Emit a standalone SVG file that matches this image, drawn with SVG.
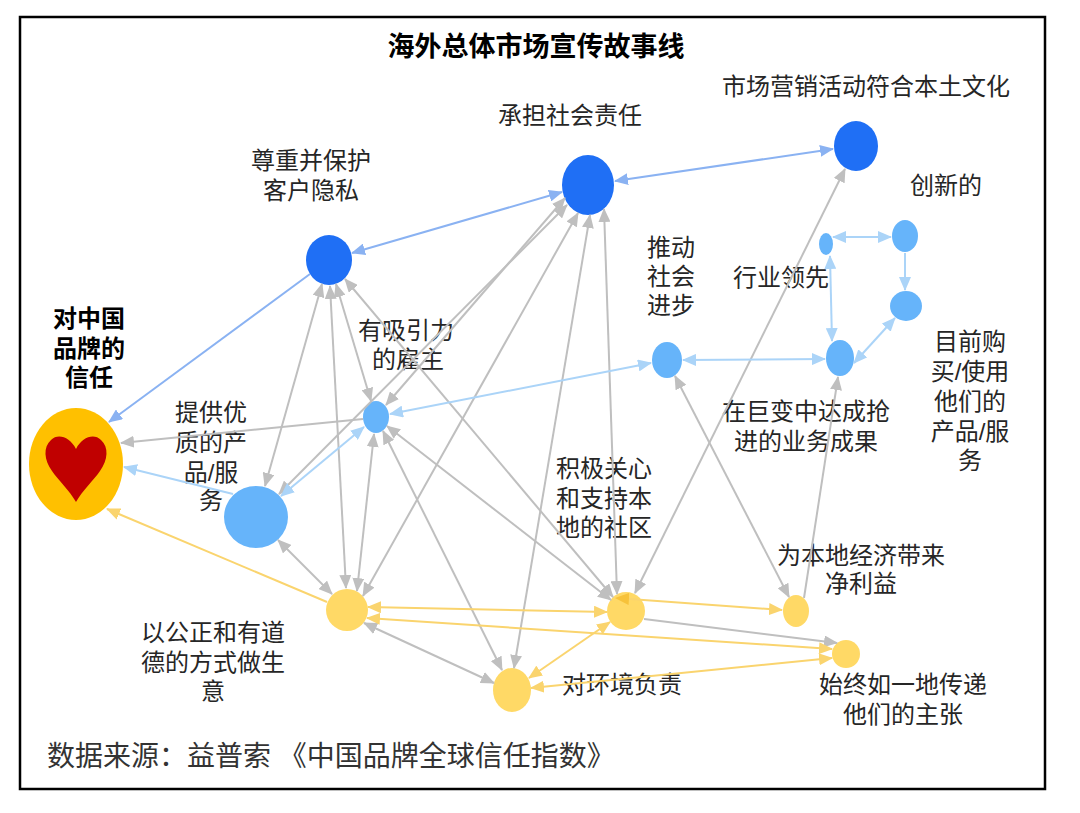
<svg xmlns="http://www.w3.org/2000/svg" width="1080" height="813" viewBox="0 0 1080 813">
<style>
text{font-family:"Liberation Sans","Noto Sans CJK SC",sans-serif;fill:#262626;font-size:24px;text-anchor:middle}
.bold{font-weight:bold;fill:#000}
.src{font-size:28px;text-anchor:start;fill:#333}
.title{font-size:27px;font-weight:bold;fill:#000}
.g{stroke:#BFBFBF;stroke-width:2;fill:none}
.b{stroke:#8AB2F2;stroke-width:2;fill:none}
.l{stroke:#ABD4F8;stroke-width:2;fill:none}
.y{stroke:#FAD46E;stroke-width:2;fill:none}
.dk{fill:#1F6FF5}
.lt{fill:#66B4FA}
.yl{fill:#FFD966}
</style>
<defs>
<marker id="ag" viewBox="0 0 14 12" markerWidth="14" markerHeight="12" refX="13" refY="6" orient="auto-start-reverse" markerUnits="userSpaceOnUse"><path d="M0,0L14,6L0,12Z" fill="#BFBFBF"/></marker>
<marker id="ab" viewBox="0 0 14 12" markerWidth="14" markerHeight="12" refX="13" refY="6" orient="auto-start-reverse" markerUnits="userSpaceOnUse"><path d="M0,0L14,6L0,12Z" fill="#8AB2F2"/></marker>
<marker id="al" viewBox="0 0 14 12" markerWidth="14" markerHeight="12" refX="13" refY="6" orient="auto-start-reverse" markerUnits="userSpaceOnUse"><path d="M0,0L14,6L0,12Z" fill="#ABD4F8"/></marker>
<marker id="ay" viewBox="0 0 14 12" markerWidth="14" markerHeight="12" refX="13" refY="6" orient="auto-start-reverse" markerUnits="userSpaceOnUse"><path d="M0,0L14,6L0,12Z" fill="#FAD46E"/></marker>
<marker id="ay2" viewBox="0 0 14 12" markerWidth="14" markerHeight="12" refX="13" refY="6" orient="auto-start-reverse" markerUnits="userSpaceOnUse"><path d="M0,0L14,6L0,12Z" fill="#F7C23A"/></marker>
</defs>
<rect x="0" y="0" width="1080" height="813" fill="#fff"/>
<rect id="frame" x="20" y="17" width="1025" height="772" fill="none" stroke="#000" stroke-width="2.5"/>
<text class="title" x="536" y="56">海外总体市场宣传故事线</text>

<g id="nodes">
<g id="n-trust"><ellipse cx="76" cy="464" rx="47" ry="56" fill="#FFC000"/><path d="M76,449 C70,437 58,433 51,440 C43,447 44,460 52,471 C58,480 70,491 76,502 C82,491 94,480 100,471 C108,460 109,447 101,440 C94,433 82,437 76,449 Z" fill="#C00000"/><text class="bold" x="89" y="327">对中国</text><text class="bold" x="89" y="357">品牌的</text><text class="bold" x="89" y="386">信任</text></g>
<g id="n-privacy"><ellipse class="dk" cx="329" cy="260" rx="23" ry="25"/><text x="311" y="169">尊重并保护</text><text x="311" y="199">客户隐私</text></g>
<g id="n-social"><ellipse class="dk" cx="588" cy="185" rx="26" ry="30"/><text x="570" y="124">承担社会责任</text></g>
<g id="n-culture"><ellipse class="dk" cx="856" cy="146" rx="22" ry="25"/><text x="866" y="95">市场营销活动符合本土文化</text></g>
<g id="n-employer"><ellipse class="lt" cx="376" cy="417" rx="13" ry="16"/><text x="406" y="339">有吸引力</text><text x="408" y="368">的雇主</text></g>
<g id="n-quality"><ellipse class="lt" cx="256" cy="517" rx="32" ry="31"/><text x="211" y="421">提供优</text><text x="211" y="451">质的产</text><text x="211" y="481">品/服</text><text x="211" y="509">务</text></g>
<g id="n-progress"><ellipse class="lt" cx="667" cy="360" rx="15" ry="18"/><text x="671" y="256">推动</text><text x="671" y="285">社会</text><text x="671" y="314">进步</text></g>
<g id="n-results"><ellipse class="lt" cx="840" cy="358" rx="14" ry="18"/><text x="806" y="420">在巨变中达成抢</text><text x="806" y="450">进的业务成果</text></g>
<g id="n-leader"><ellipse class="lt" cx="826" cy="244" rx="7" ry="11"/><text x="781" y="286">行业领先</text></g>
<g id="n-innov"><ellipse class="lt" cx="905" cy="236" rx="13" ry="16"/><text x="946" y="194">创新的</text></g>
<g id="n-buy"><ellipse class="lt" cx="906" cy="306" rx="16" ry="15"/><text x="970" y="350">目前购</text><text x="970" y="380">买/使用</text><text x="970" y="410">他们的</text><text x="970" y="440">产品/服</text><text x="970" y="469">务</text></g>
<g id="n-ethic"><ellipse class="yl" cx="347" cy="610" rx="21" ry="21"/><text x="213" y="641">以公正和有道</text><text x="213" y="671">德的方式做生</text><text x="213" y="700">意</text></g>
<g id="n-community"><ellipse class="yl" cx="626" cy="611" rx="19" ry="19"/><text x="604" y="477">积极关心</text><text x="604" y="507">和支持本</text><text x="604" y="536">地的社区</text></g>
<g id="n-env"><ellipse class="yl" cx="512" cy="690" rx="19" ry="22"/><text x="622" y="693">对环境负责</text></g>
<g id="n-economy"><ellipse class="yl" cx="796" cy="611" rx="13" ry="16"/><text x="861" y="564">为本地经济带来</text><text x="861" y="592">净利益</text></g>
<g id="n-consistent"><ellipse class="yl" cx="846" cy="654" rx="14" ry="14"/><text x="903" y="693">始终如一地传递</text><text x="903" y="723">他们的主张</text></g>
</g>

<g id="connectors">
<path class="g" d="M363,419 L121,443" marker-end="url(#ag)"/>
<path class="g" d="M322,284 L265,486" marker-start="url(#ag)" marker-end="url(#ag)"/>
<path class="g" d="M330,286 L346,588" marker-start="url(#ag)" marker-end="url(#ag)"/>
<path class="g" d="M336,284 L371,401" marker-start="url(#ag)" marker-end="url(#ag)"/>
<path class="g" d="M345,279 L613,597" marker-start="url(#ag)" marker-end="url(#ag)"/>
<path class="g" d="M565,198 L386,405" marker-start="url(#ag)" marker-end="url(#ag)"/>
<path class="g" d="M567,205 L279,494" marker-start="url(#ag)" marker-end="url(#ag)"/>
<path class="g" d="M578,213 L363,596" marker-start="url(#ag)" marker-end="url(#ag)"/>
<path class="g" d="M604,209 L617,594" marker-start="url(#ag)" marker-end="url(#ag)"/>
<path class="g" d="M590,215 L514,668" marker-start="url(#ag)" marker-end="url(#ag)"/>
<path class="g" d="M845,169 L635,593" marker-start="url(#ag)" marker-end="url(#ag)"/>
<path class="g" d="M374,434 L357,591" marker-start="url(#ag)" marker-end="url(#ag)"/>
<path class="g" d="M383,431 L502,670" marker-start="url(#ag)" marker-end="url(#ag)"/>
<path class="g" d="M387,426 L611,600" marker-start="url(#ag)" marker-end="url(#ag)"/>
<path class="g" d="M278,540 L332,594" marker-start="url(#ag)" marker-end="url(#ag)"/>
<path class="g" d="M364,623 L494,683" marker-start="url(#ag)" marker-end="url(#ag)"/>
<path class="g" d="M675,376 L789,597" marker-start="url(#ag)" marker-end="url(#ag)"/>
<path class="g" d="M804,598 L838,377" marker-end="url(#ag)"/>
<path class="g" d="M644,619 L837,643" marker-end="url(#ag)"/>
<path class="b" d="M310,274 L109,422" marker-end="url(#ab)"/>
<path class="b" d="M562,192 L352,253" marker-start="url(#ab)" marker-end="url(#ab)"/>
<path class="b" d="M615,181 L833,149" marker-start="url(#ab)" marker-end="url(#ab)"/>
<path class="l" d="M233,494 L124,467" marker-end="url(#al)"/>
<path class="l" d="M281,496 L364,427" marker-start="url(#al)" marker-end="url(#al)"/>
<path class="l" d="M651,363 L390,414" marker-start="url(#al)" marker-end="url(#al)"/>
<path class="l" d="M683,360 L825,359" marker-start="url(#al)" marker-end="url(#al)"/>
<path class="l" d="M830,256 L832,341" marker-start="url(#al)" marker-end="url(#al)"/>
<path class="l" d="M833,237 L891,237" marker-start="url(#al)" marker-end="url(#al)"/>
<path class="l" d="M905,253 L905,290" marker-end="url(#al)"/>
<path class="l" d="M895,318 L854,363" marker-start="url(#al)" marker-end="url(#al)"/>
<path class="y" d="M327,602 L107,509" marker-end="url(#ay)"/>
<path class="y" d="M368,607 L607,612" marker-start="url(#ay)" marker-end="url(#ay)"/>
<path class="y" d="M367,618 L832,649" marker-start="url(#ay)" marker-end="url(#ay)"/>
<path class="y" d="M531,688 L832,658" marker-start="url(#ay)" marker-end="url(#ay)"/>
<path class="y" d="M610,622 L529,678" marker-start="url(#ay)" marker-end="url(#ay)"/>
<path class="y" d="M616,598 L782,610" marker-start="url(#ay2)" marker-end="url(#ay)"/>
</g>

<text class="src" x="47" y="766">数据来源：益普索 《中国品牌全球信任指数》</text>
</svg>
